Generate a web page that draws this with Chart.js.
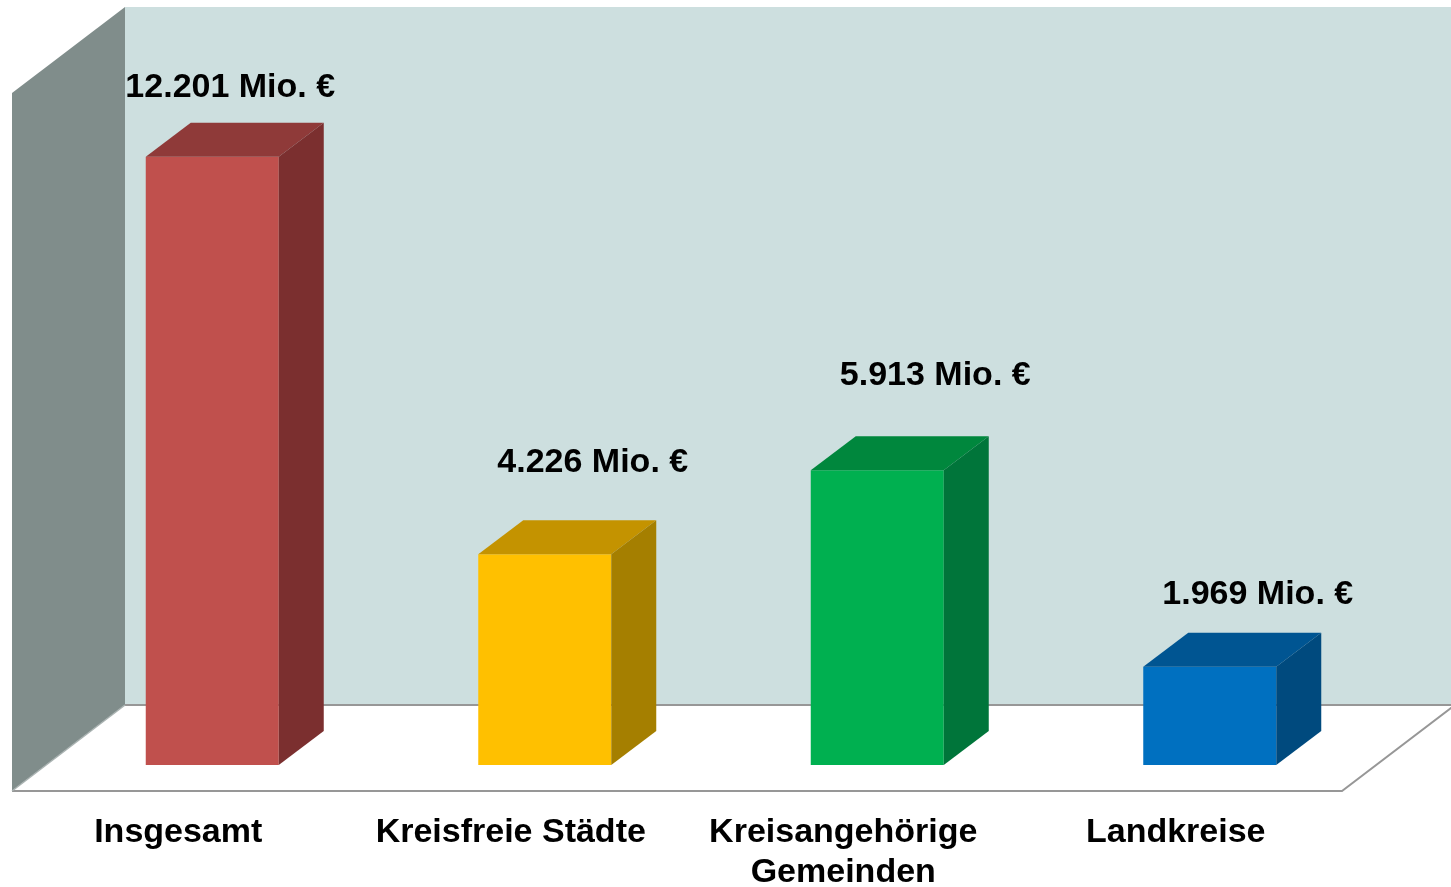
<!DOCTYPE html>
<html>
<head>
<meta charset="utf-8">
<script src="https://cdn.jsdelivr.net/npm/chart.js@4/dist/chart.umd.min.js"></script>
<style>
  html, body { margin: 0; padding: 0; background: #ffffff; }
  #wrap { width: 1451px; height: 887px; position: relative; }
</style>
</head>
<body>
<div id="wrap"><canvas id="c" width="1451" height="887"></canvas></div>
<script>
// ---- data ----
const categories = ['Insgesamt', 'Kreisfreie Städte', ['Kreisangehörige', 'Gemeinden'], 'Landkreise'];
const values = [12201, 4226, 5913, 1969];
const valueUnit = 'Mio. €';
const axisMin = 0;
const axisMax = 14000;

// ---- styles ----
const frontColors = ['#c0504d', '#ffc000', '#00b050', '#0070c0'];
const topColors   = ['#8f3a39', '#c49300', '#00873d', '#005592'];
const sideColors  = ['#7b2f2f', '#a57f00', '#00753a', '#004a7e'];
const labelOffsets = [[18, -69], [48, -92], [58, -95], [48, -72]];
const FONT = '"Liberation Sans", Arial, Helvetica, sans-serif';

const BACK = { dx: 79, dy: -60 };   // back wall plane relative to bar front plane
const FRONT = { dx: -34, dy: 26 };  // floor front edge relative to bar front plane
const DEPTH = { dx: 45, dy: -34 };  // bar depth

function fmt(v) {
  return String(v).replace(/\B(?=(\d{3})+(?!\d))/g, '.');
}

const scene3d = {
  id: 'scene3d',
  beforeDatasetsDraw(chart) {
    const { ctx, chartArea: a } = chart;
    const L = a.left, R = a.right, T = a.top, B = a.bottom;
    const W = chart.width;
    ctx.save();
    // back wall
    ctx.fillStyle = '#cddfdf';
    ctx.fillRect(L + BACK.dx, T + BACK.dy, W - (L + BACK.dx), B - T);
    // side wall
    ctx.fillStyle = '#808d8b';
    ctx.beginPath();
    ctx.moveTo(L + FRONT.dx, T + FRONT.dy);
    ctx.lineTo(L + BACK.dx, T + BACK.dy);
    ctx.lineTo(L + BACK.dx, B + BACK.dy);
    ctx.lineTo(L + FRONT.dx, B + FRONT.dy);
    ctx.closePath();
    ctx.fill();
    // floor
    ctx.fillStyle = '#ffffff';
    ctx.beginPath();
    ctx.moveTo(L + FRONT.dx, B + FRONT.dy);
    ctx.lineTo(L + BACK.dx, B + BACK.dy);
    ctx.lineTo(R + BACK.dx, B + BACK.dy);
    ctx.lineTo(R + FRONT.dx, B + FRONT.dy);
    ctx.closePath();
    ctx.fill();
    // floor edges
    ctx.strokeStyle = '#979797';
    ctx.lineWidth = 2;
    ctx.beginPath();
    ctx.moveTo(L + BACK.dx, B + BACK.dy);
    ctx.lineTo(R + BACK.dx, B + BACK.dy);
    ctx.moveTo(L + FRONT.dx, B + FRONT.dy);
    ctx.lineTo(R + FRONT.dx, B + FRONT.dy);
    ctx.lineTo(R + BACK.dx, B + BACK.dy);
    ctx.stroke();
    ctx.strokeStyle = '#a9b2b1';
    ctx.lineWidth = 1.5;
    ctx.beginPath();
    ctx.moveTo(L + FRONT.dx, B + FRONT.dy);
    ctx.lineTo(L + BACK.dx, B + BACK.dy);
    ctx.stroke();
    ctx.restore();
  },
  afterDatasetsDraw(chart) {
    const { ctx } = chart;
    const meta = chart.getDatasetMeta(0);
    const xScale = chart.scales.x;
    const bottom = chart.chartArea.bottom;
    ctx.save();
    meta.data.forEach((bar, i) => {
      const p = bar.getProps(['x', 'y', 'base', 'width'], true);
      const x0 = p.x - p.width / 2, x1 = p.x + p.width / 2;
      const yt = p.y, yb = p.base;
      // top face
      ctx.fillStyle = topColors[i];
      ctx.beginPath();
      ctx.moveTo(x0, yt);
      ctx.lineTo(x0 + DEPTH.dx, yt + DEPTH.dy);
      ctx.lineTo(x1 + DEPTH.dx, yt + DEPTH.dy);
      ctx.lineTo(x1, yt);
      ctx.closePath();
      ctx.fill();
      // side face
      ctx.fillStyle = sideColors[i];
      ctx.beginPath();
      ctx.moveTo(x1, yt);
      ctx.lineTo(x1 + DEPTH.dx, yt + DEPTH.dy);
      ctx.lineTo(x1 + DEPTH.dx, yb + DEPTH.dy);
      ctx.lineTo(x1, yb);
      ctx.closePath();
      ctx.fill();
      // value label
      ctx.fillStyle = '#000000';
      ctx.font = 'bold 34px ' + FONT;
      ctx.textAlign = 'center';
      ctx.textBaseline = 'middle';
      ctx.fillText(fmt(values[i]) + ' ' + valueUnit, p.x + labelOffsets[i][0], yt + labelOffsets[i][1]);
    });
    // category labels, centred on the floor's front edge
    ctx.fillStyle = '#000000';
    ctx.font = 'bold 34px ' + FONT;
    ctx.textAlign = 'center';
    ctx.textBaseline = 'middle';
    categories.forEach((c, i) => {
      const lines = Array.isArray(c) ? c : [c];
      const cx = xScale.getPixelForValue(i) + FRONT.dx;
      lines.forEach((ln, k) => {
        ctx.fillText(ln, cx, bottom + 68 + k * 40);
      });
    });
    ctx.restore();
  }
};

new Chart(document.getElementById('c'), {
  type: 'bar',
  data: {
    labels: categories.map(c => Array.isArray(c) ? c.join(' ') : c),
    datasets: [{
      data: values,
      backgroundColor: frontColors,
      borderWidth: 0,
      barPercentage: 0.4,
      categoryPercentage: 1.0
    }]
  },
  options: {
    responsive: false,
    animation: false,
    devicePixelRatio: 1,
    layout: { padding: { left: 46, right: 75, top: 67, bottom: 122 } },
    plugins: { legend: { display: false }, tooltip: { enabled: false } },
    scales: {
      x: { display: false },
      y: { display: false, min: axisMin, max: axisMax }
    }
  },
  plugins: [scene3d]
});
</script>
</body>
</html>
